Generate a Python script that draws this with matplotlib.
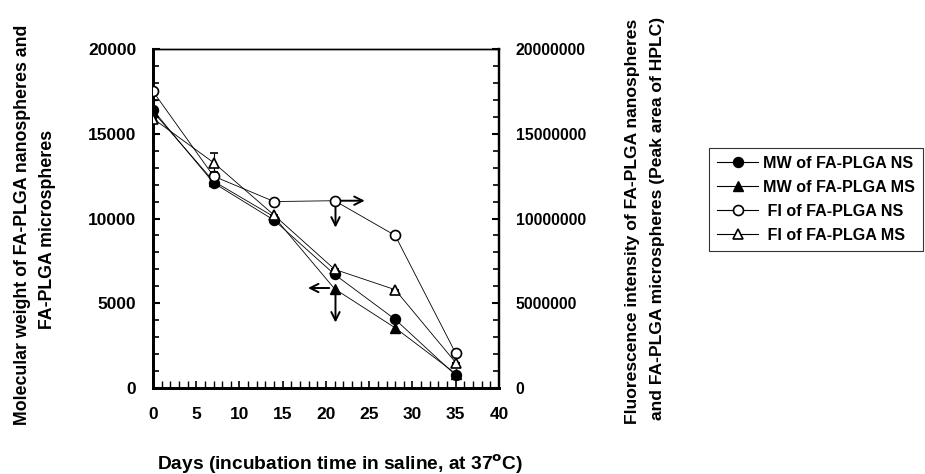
import numpy as np
import matplotlib.pyplot as plt
from matplotlib.lines import Line2D
from matplotlib.ticker import MultipleLocator, FuncFormatter

plt.rcParams["font.family"] = ["Liberation Sans", "DejaVu Sans"]
plt.rcParams["font.weight"] = "bold"

# data
days = [0, 7, 14, 21, 28, 35]
mw_ns = [16400, 12100, 9900, 6700, 4050, 750]         # left axis
mw_ns_err = [600, 0, 0, 0, 0, 0]
mw_ms = [16300, 12200, 10100, 5850, 3550, 850]        # left axis
fi_ns = [17500000, 12500000, 11000000, 11050000, 9000000, 2050000]   # right axis
fi_ms = [15900000, 13300000, 10200000, 7000000, 5800000, 1500000]    # right axis
fi_ms_err = [0, 550000, 0, 0, 0, 0]

labels = ["MW of FA-PLGA NS", "MW of FA-PLGA MS",
          " FI of FA-PLGA NS", " FI of FA-PLGA MS"]

fig = plt.figure(figsize=(9.25, 4.74), dpi=100)
ax = fig.add_axes([0.1654, 0.1814, 0.374, 0.7152])
ax2 = ax.twinx()

lw = 0.6
ms = 7.2
ax.errorbar(days, mw_ns, yerr=mw_ns_err, color="black", lw=lw, marker="o",
            ms=ms, mfc="black", mec="black", capsize=3, elinewidth=0.8, zorder=3)
ax.plot(days, mw_ms, color="black", lw=lw, marker="^", ms=ms + 0.5,
        mfc="black", mec="black", zorder=3)
ax2.plot(days, fi_ns, color="black", lw=lw, marker="o", ms=ms,
         mfc="white", mec="black", mew=1.2, zorder=3)
ax2.errorbar(days, fi_ms, yerr=fi_ms_err, color="black", lw=lw, marker="^",
             ms=ms + 0.5, mfc="white", mec="black", mew=1.2, capsize=3,
             elinewidth=0.8, zorder=3)

# arrows showing which axis each group refers to
arw = dict(arrowstyle="->,head_length=0.6,head_width=0.3", color="black", lw=1.4)
ax.annotate("", xy=(24.8, 11050), xytext=(21.3, 11050), arrowprops=arw)
ax.annotate("", xy=(21.1, 9300), xytext=(21.1, 11000), arrowprops=arw)
ax.annotate("", xy=(17.6, 5900), xytext=(20.7, 5900), arrowprops=arw)
ax.annotate("", xy=(21.1, 3700), xytext=(21.1, 5900), arrowprops=arw)

ax.set_xlim(0, 40)
ax.set_ylim(0, 20000)
ax2.set_ylim(0, 20000000)
ax.xaxis.set_major_locator(MultipleLocator(5))
ax.xaxis.set_minor_locator(MultipleLocator(1))
ax.yaxis.set_major_locator(MultipleLocator(5000))
ax.yaxis.set_minor_locator(MultipleLocator(1000))
ax2.yaxis.set_major_locator(MultipleLocator(5000000))
ax2.yaxis.set_minor_locator(MultipleLocator(1000000))
ax2.yaxis.set_major_formatter(FuncFormatter(lambda v, p: f"{int(v)}"))

ax.tick_params(axis="both", which="both", direction="in", labelsize=12.5)
ax.tick_params(axis="x", which="major", length=5, width=1.2, pad=14)
ax.tick_params(axis="x", which="minor", length=5, width=1.0)
ax.tick_params(axis="y", which="major", length=5, width=1.5, pad=12)
ax.tick_params(axis="y", which="minor", length=4, width=1.2)
ax2.tick_params(axis="y", which="both", direction="in", labelsize=11.3)
ax2.tick_params(axis="y", which="major", length=5, width=1.5, pad=12)
ax2.tick_params(axis="y", which="minor", length=4, width=1.2)

for a in (ax, ax2):
    a.spines["left"].set_linewidth(2)
    a.spines["bottom"].set_linewidth(2)
    a.spines["right"].set_linewidth(1.6)
    a.spines["top"].set_linewidth(1)

fig.text(0.024, 0.525, "Molecular weight of FA-PLGA nanospheres and",
         rotation=90, ha="center", va="center", fontsize=12.8)
fig.text(0.051, 0.517, "FA-PLGA microspheres",
         rotation=90, ha="center", va="center", fontsize=12.8)
fig.text(0.684, 0.534, "Fluorescence intensity of FA-PLGA nanospheres",
         rotation=90, ha="center", va="center", fontsize=12.6)
fig.text(0.711, 0.54, "and FA-PLGA microspheres (Peak area of HPLC)",
         rotation=90, ha="center", va="center", fontsize=12.6)
fig.text(0.368, 0.021, "Days (incubation time in saline, at 37$^{\\rm o}$C)",
         ha="center", va="center", fontsize=13.8)

handles = [
    Line2D([], [], color="black", lw=0.8, marker="o", ms=ms, mfc="black", mec="black"),
    Line2D([], [], color="black", lw=0.8, marker="^", ms=ms + 0.5, mfc="black", mec="black"),
    Line2D([], [], color="black", lw=0.8, marker="o", ms=ms, mfc="white", mec="black", mew=1.2),
    Line2D([], [], color="black", lw=0.8, marker="^", ms=ms + 0.5, mfc="white", mec="black", mew=1.2),
]
leg = fig.legend(handles, labels, loc="upper left",
                 bbox_to_anchor=(0.766, 0.688), bbox_transform=fig.transFigure,
                 fontsize=11.6, frameon=True, fancybox=False, edgecolor="black",
                 handlelength=2.6, labelspacing=0.55, borderpad=0.5,
                 handletextpad=0.25, borderaxespad=0)
leg.get_frame().set_linewidth(0.8)

plt.savefig("out.png", dpi=100)
